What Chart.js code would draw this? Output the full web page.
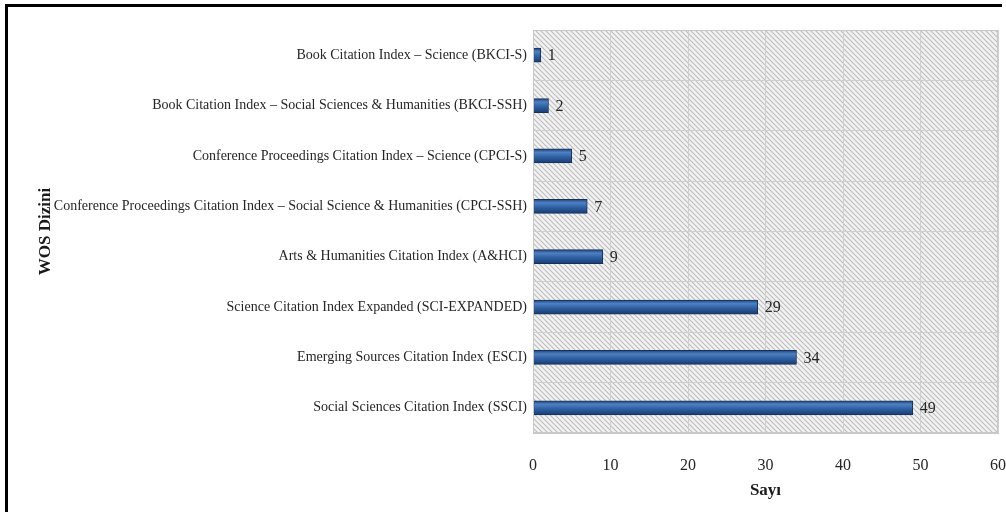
<!DOCTYPE html>
<html>
<head>
<meta charset="utf-8">
<script src="https://cdn.jsdelivr.net/npm/chart.js@4"></script>
<style>
  html, body { margin: 0; padding: 0; background: #fff; }
  #wrap { position: relative; width: 1006px; height: 512px; overflow: hidden; }
  #frame { position: absolute; left: 5px; top: 4px; width: 994px; height: 520px;
           border-left: 3px solid #000; border-top: 3px solid #000; pointer-events: none; }
  canvas { position: absolute; left: 0; top: 0; }
</style>
</head>
<body>
<div id="wrap">
  <canvas id="c" width="1006" height="512"></canvas>
  <div id="frame"></div>
</div>
<script>
const categories = [
  "Book Citation Index – Science (BKCI-S)",
  "Book Citation Index – Social Sciences & Humanities (BKCI-SSH)",
  "Conference Proceedings Citation Index – Science (CPCI-S)",
  "Conference Proceedings Citation Index – Social Science & Humanities (CPCI-SSH)",
  "Arts & Humanities Citation Index (A&HCI)",
  "Science Citation Index Expanded (SCI-EXPANDED)",
  "Emerging Sources Citation Index (ESCI)",
  "Social Sciences Citation Index (SSCI)"
];
const counts = [1, 2, 5, 7, 9, 29, 34, 49];
const xTitle = "Sayı";
const yTitle = "WOS Dizini";

function makeHatch() {
  const p = document.createElement('canvas');
  p.width = 5; p.height = 5;
  const g = p.getContext('2d');
  g.fillStyle = '#f2f2f2';
  g.fillRect(0, 0, 5, 5);
  g.strokeStyle = '#bdbdbd';
  g.lineWidth = 1.1;
  g.beginPath();
  g.moveTo(-1, -1); g.lineTo(6, 6);
  g.moveTo(-6, -1); g.lineTo(1, 6);
  g.moveTo(4, -1); g.lineTo(11, 6);
  g.stroke();
  return p;
}

const hatchPlugin = {
  id: 'hatch',
  beforeDraw(chart) {
    const {ctx, chartArea: a} = chart;
    ctx.save();
    ctx.fillStyle = ctx.createPattern(makeHatch(), 'repeat');
    ctx.fillRect(a.left, a.top, a.right - a.left, a.bottom - a.top);
    ctx.restore();
  }
};

const valueLabels = {
  id: 'valueLabels',
  afterDatasetsDraw(chart) {
    const {ctx} = chart;
    const meta = chart.getDatasetMeta(0);
    ctx.save();
    ctx.font = '16px "Liberation Serif"';
    ctx.fillStyle = '#262626';
    ctx.textAlign = 'left';
    ctx.textBaseline = 'middle';
    meta.data.forEach((bar, i) => {
      ctx.fillText(String(counts[i]), bar.x + 7, bar.y + 1);
    });
    ctx.restore();
  }
};

const areaBorder = {
  id: 'areaBorder',
  afterDraw(chart) {
    const {ctx, chartArea: a} = chart;
    ctx.save();
    ctx.strokeStyle = '#c8c8c8';
    ctx.lineWidth = 1;
    ctx.strokeRect(a.left + 0.5, a.top + 0.5, a.right - a.left - 1, a.bottom - a.top - 1);
    ctx.restore();
  }
};

function barFill(context) {
  const chart = context.chart;
  const ys = chart.scales && chart.scales.y;
  if (!ys || !chart.chartArea) return '#2c5c9e';
  const yc = ys.getPixelForValue(context.dataIndex);
  const h = 7;
  const g = chart.ctx.createLinearGradient(0, yc - h, 0, yc + h);
  g.addColorStop(0, '#1d4680');
  g.addColorStop(0.25, '#4f80c0');
  g.addColorStop(0.55, '#2f62a6');
  g.addColorStop(1, '#1a3c70');
  return g;
}

new Chart(document.getElementById('c'), {
  type: 'bar',
  data: {
    labels: categories,
    datasets: [{
      data: counts,
      backgroundColor: barFill,
      borderColor: '#17305a',
      borderWidth: 1,
      borderSkipped: false,
      barThickness: 14
    }]
  },
  plugins: [hatchPlugin, valueLabels, areaBorder],
  options: {
    indexAxis: 'y',
    responsive: false,
    animation: false,
    devicePixelRatio: 1,
    layout: { padding: { top: 30, right: 8, left: 0, bottom: 0 } },
    plugins: { legend: { display: false }, tooltip: { enabled: false } },
    scales: {
      x: {
        min: 0, max: 60,
        ticks: { stepSize: 10, color: '#262626', padding: 0,
                 font: { family: 'Liberation Serif', size: 16 } },
        grid: { color: '#cfcfcf', drawTicks: true, tickLength: 23,
                tickColor: 'rgba(0,0,0,0)', lineWidth: 1 },
        border: { display: true, color: '#c8c8c8' },
        title: { display: true, text: xTitle, color: '#1a1a1a',
                 font: { family: 'Liberation Serif', size: 17, weight: 'bold' },
                 padding: { top: 0, bottom: 11 } },
        afterFit(s) { s.height = 79; }
      },
      y: {
        ticks: { color: '#262626', padding: 6,
                 font: { family: 'Liberation Serif', size: 14 } },
        grid: { color: '#cfcfcf', drawTicks: false, offset: true, lineWidth: 1 },
        border: { display: true, color: '#c8c8c8' },
        title: { display: true, text: yTitle, color: '#1a1a1a',
                 font: { family: 'Liberation Serif', size: 17, weight: 'bold' },
                 padding: { top: 35, bottom: 0 } },
        afterFit(s) { s.width = 533; }
      }
    }
  }
});
</script>
</body>
</html>
